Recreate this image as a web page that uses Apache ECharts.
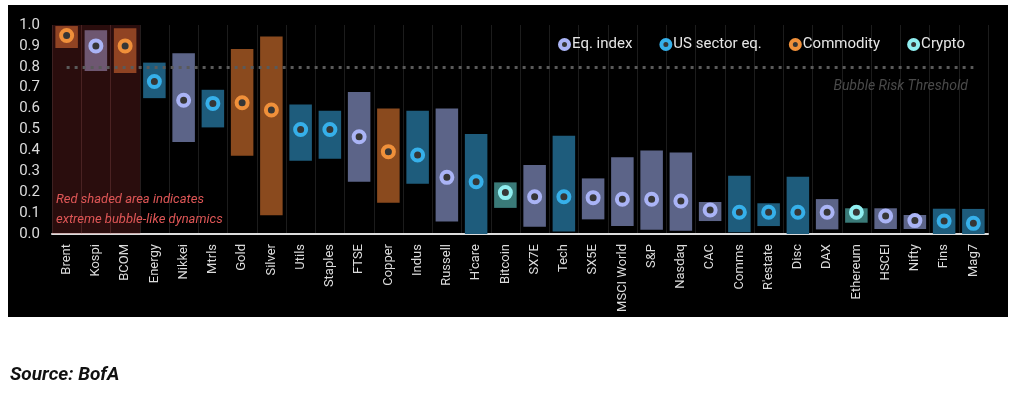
<!DOCTYPE html>
<html>
<head>
<meta charset="utf-8">
<script src="https://cdn.jsdelivr.net/npm/echarts@6/dist/echarts.min.js"></script>
<style>
  html, body { margin: 0; padding: 0; background: #fff; }
  #chart { width: 1016px; height: 396px; }
</style>
</head>
<body>
<div id="chart"></div>
<script>
// categories, left to right
const categories = ['Brent', 'Kospi', 'BCOM', 'Energy', 'Nikkei', 'Mtrls', 'Gold', 'Silver', 'Utils', 'Staples',
  'FTSE', 'Copper', 'Indus', 'Russell', "H'care", 'Bitcoin', 'SX7E', 'Tech', 'SX5E', 'MSCI World', 'S&P',
  'Nasdaq', 'CAC', 'Comms', "R'estate", 'Disc', 'DAX', 'Ethereum', 'HSCEI', 'Nifty', 'Fins', 'Mag7'];
// 0 = Eq. index, 1 = US sector eq., 2 = Commodity, 3 = Crypto
const types = [2, 0, 2, 1, 0, 1, 2, 2, 1, 1,
  0, 2, 1, 0, 1, 3, 0, 1, 0, 0, 0,
  0, 0, 1, 1, 1, 0, 3, 0, 0, 1, 1];
// range bottom / top and current reading
const lows = [0.89, 0.78, 0.77, 0.65, 0.44, 0.51, 0.375, 0.09, 0.35, 0.36,
  0.25, 0.15, 0.24, 0.06, 0.0, 0.125, 0.035, 0.012, 0.07, 0.038, 0.02,
  0.016, 0.062, 0.008, 0.038, 0.0, 0.022, 0.054, 0.024, 0.024, 0.0, 0.0];
const highs = [0.995, 0.975, 0.985, 0.82, 0.865, 0.69, 0.885, 0.945, 0.62, 0.59,
  0.68, 0.60, 0.59, 0.60, 0.478, 0.247, 0.33, 0.47, 0.266, 0.367, 0.40,
  0.39, 0.153, 0.279, 0.147, 0.274, 0.167, 0.123, 0.123, 0.091, 0.121, 0.12];
const points = [0.95, 0.90, 0.90, 0.73, 0.64, 0.625, 0.628, 0.593, 0.50, 0.50,
  0.465, 0.394, 0.378, 0.271, 0.25, 0.198, 0.178, 0.178, 0.174, 0.166, 0.166,
  0.158, 0.115, 0.104, 0.104, 0.104, 0.104, 0.104, 0.086, 0.064, 0.062, 0.051];
const typeNames = ['Eq. index', 'US sector eq.', 'Commodity', 'Crypto'];
const yTicks = [0, 0.1, 0.2, 0.3, 0.4, 0.5, 0.6, 0.7, 0.8, 0.9, 1.0];
const threshold = 0.8;
const redZone = ['Brent', 'Kospi', 'BCOM'];

const ringColors = ['#aab4f6', '#36b0ea', '#f0903a', '#90eef0'];
const barColors = ['#5c6488', '#1e5c7c', '#8a4a1e', '#3a7a78'];
const FONT = 'Roboto, "Noto Sans", sans-serif';

const chart = echarts.init(document.getElementById('chart'));

const rangeData = categories.map((c, i) => [i, lows[i], highs[i], types[i]]);
const redData = redZone.map(c => [categories.indexOf(c), yTicks[yTicks.length - 1]]);

const scatterSeries = typeNames.map((name, t) => ({
  name: name,
  type: 'scatter',
  z: 5,
  symbol: 'circle',
  symbolSize: 11,
  itemStyle: { color: '#363636', borderColor: ringColors[t], borderWidth: 4, opacity: 1 },
  data: points.map((v, i) => types[i] === t ? v : '-')
}));

chart.setOption({
  backgroundColor: '#fff',
  animation: false,
  textStyle: { fontFamily: FONT },
  graphic: [
    { type: 'rect', z: -100, silent: true, shape: { x: 8, y: 5, width: 1000, height: 312 }, style: { fill: '#000' } },
    { type: 'text', z: 100, left: 56, top: 190, style: { text: 'Red shaded area indicates\nextreme bubble-like dynamics', fill: '#de5656', font: 'italic 13px ' + FONT, lineHeight: 20 } },
    { type: 'text', z: 100, right: 48, top: 79, style: { text: 'Bubble Risk Threshold', fill: '#4a4a4a', font: 'italic 14px ' + FONT } },
    { type: 'text', z: 100, left: 10, top: 366, style: { text: 'Source: BofA', fill: '#111', font: 'italic bold 19px ' + FONT } }
  ],
  legend: {
    data: typeNames,
    left: 553,
    top: 32,
    itemGap: 27,
    itemWidth: 9,
    itemHeight: 9,
    icon: 'circle',
    itemStyle: { borderWidth: 4 },
    textStyle: { color: '#e6e6e6', fontSize: 15, fontFamily: FONT, padding: [0, 0, 0, -2] }
  },
  grid: { left: 52, right: 28, top: 25, bottom: 162 },
  xAxis: {
    type: 'category',
    data: categories,
    axisLine: { show: true, lineStyle: { color: '#dcdcdc', width: 2 } },
    axisTick: { show: false },
    axisLabel: { rotate: 90, color: '#dcdcdc', fontSize: 13, margin: 10, interval: 0, fontFamily: FONT },
    splitLine: { show: true, interval: 0, lineStyle: { color: '#1c1c1c', width: 1 } }
  },
  yAxis: {
    type: 'value',
    min: 0,
    max: 1,
    interval: 0.1,
    axisLine: { show: false },
    axisTick: { show: false },
    splitLine: { show: false },
    axisLabel: { color: '#dcdcdc', fontSize: 15, margin: 12, fontFamily: FONT, formatter: v => v.toFixed(1) }
  },
  series: [
    {
      name: 'range',
      type: 'custom',
      z: 2,
      encode: { x: 0, y: [1, 2] },
      data: rangeData,
      renderItem: (params, api) => {
        const i = api.value(0);
        const top = api.coord([i, api.value(2)]);
        const bot = api.coord([i, api.value(1)]);
        const w = api.size([1, 0])[0] * 0.77;
        return {
          type: 'rect',
          shape: { x: top[0] - w / 2, y: top[1], width: w, height: bot[1] - top[1] },
          style: { fill: barColors[api.value(3)] }
        };
      }
    },
    {
      name: 'red zone',
      type: 'custom',
      z: 3,
      silent: true,
      encode: { x: 0, y: 1 },
      data: redData,
      renderItem: (params, api) => {
        const i = api.value(0);
        const top = api.coord([i, api.value(1)]);
        const bot = api.coord([i, 0]);
        const w = api.size([1, 0])[0];
        return {
          type: 'rect',
          shape: { x: top[0] - w / 2, y: top[1], width: w + 0.5, height: bot[1] - top[1] },
          style: { fill: 'rgba(161,50,50,0.26)' }
        };
      }
    },
    {
      name: 'threshold',
      type: 'line',
      z: 4,
      data: [],
      markLine: {
        silent: true,
        symbol: 'none',
        label: { show: false },
        lineStyle: { color: '#5a5a5a', width: 3, type: [3, 5] },
        data: [[{ coord: [categories[0], threshold] }, { coord: [categories[categories.length - 1], threshold] }]]
      }
    },
    ...scatterSeries
  ]
});
</script>
</body>
</html>
